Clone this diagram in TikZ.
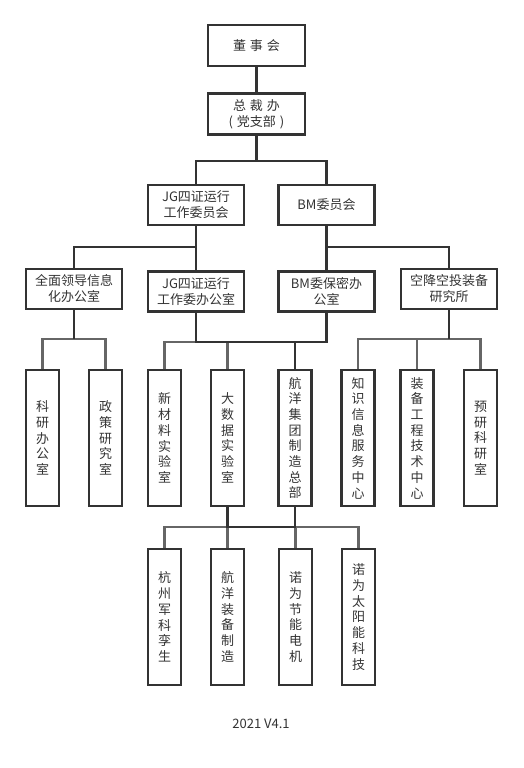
\documentclass[tikz,border=0pt]{standalone}
\usepackage{fontspec}
\setmainfont{Noto Sans CJK SC}
\usetikzlibrary{positioning}
\definecolor{linegray}{HTML}{333333}
\definecolor{busgray}{HTML}{666666}

\begin{document}
\begin{tikzpicture}[x=1pt,y=-1pt,
	box/.style={draw=linegray,line width=2.4pt,minimum width=96pt,minimum height=40pt,inner sep=0pt,align=center,text=linegray,font=\fontsize{13}{16}\selectfont},
	topbox/.style={box,minimum width=97pt,minimum height=41pt},
	vbox/.style={box,minimum width=33pt,minimum height=136pt,font=\fontsize{13}{15.7}\selectfont},
	conn/.style={draw=linegray,line width=2.2pt},
	sub/.style={conn,draw=busgray}]
	\useasboundingbox (0,0) rectangle (523,768);

	\node[topbox] (dsh) at (256.5,45.5) {董\hspace{4pt}事\hspace{4pt}会};
	\node[topbox] (zcb) [below=25pt of dsh] {总\hspace{4pt}裁\hspace{4pt}办\\(\hspace{4pt}党支部\hspace{4pt})};

	\node[box] (jgwyh) at (196,205) {JG四证运行\\工作委员会};
	\node[box] (bmwyh) at (326.5,205) {BM委员会};

	\node[box] (qmld) at (74,289) {全面领导信息\\化办公室};
	\node[box] (jgbgs) [below=44pt of jgwyh] {JG四证运行\\工作委办公室};
	\node[box] (bmbm) [below=44pt of bmwyh] {BM委保密办\\公室};
	\node[box] (kjkt) at (449,289) {空降空投装备\\研究所};

	\node[vbox] (kybgs) at (42.5,438) {科\\研\\办\\公\\室};
	\node[vbox] (zcyjs) at (105.5,438) {政\\策\\研\\究\\室};
	\node[vbox] (xcl) at (164.5,438) {新\\材\\料\\实\\验\\室};
	\node[vbox] (dsj) at (227.5,438) {大\\数\\据\\实\\验\\室};
	\node[vbox] (hyjt) at (295,438) {航\\洋\\集\\团\\制\\造\\总\\部};
	\node[vbox] (zsxx) at (358,438) {知\\识\\信\\息\\服\\务\\中\\心};
	\node[vbox] (zbgc) at (417,438) {装\\备\\工\\程\\技\\术\\中\\心};
	\node[vbox] (yyky) at (480.5,438) {预\\研\\科\\研\\室};

	\node[vbox] (hzjk) at (164.5,617) {杭\\州\\军\\科\\孪\\生};
	\node[vbox] (hyzb) at (227.5,617) {航\\洋\\装\\备\\制\\造};
	\node[vbox] (nwjn) at (295.5,617) {诺\\为\\节\\能\\电\\机};
	\node[vbox] (nwty) at (358.5,617) {诺\\为\\太\\阳\\能\\科\\技};

	\node[text=linegray,font=\fontsize{13}{16}\selectfont] (ver) at (261,724) {2021 V4.1};

	\draw[conn] (dsh) -- (zcb);
	\draw[conn] (zcb.south) -- ++(0,25) -| (jgwyh.north);
	\draw[conn] (zcb.south) -- ++(0,25) -| (bmwyh.north);
	\draw[conn] (jgwyh.south) -- ++(0,21) -| (qmld.north);
	\draw[conn] (jgwyh) -- (jgbgs);
	\draw[conn] (bmwyh) -- (bmbm);
	\draw[conn] (bmwyh.south) -- ++(0,21) -| (kjkt.north);

	\draw[sub] (qmld.south) ++(0,29) -| (kybgs.north);
	\draw[sub] (qmld.south) ++(0,29) -| (zcyjs.north);
	\draw[conn] (qmld.south) -- ++(0,29);
	\draw[sub] (jgbgs.south) ++(0,29) -| (xcl.north);
	\draw[sub] (jgbgs.south) ++(0,29) -| (dsj.north);
	\draw[conn] (jgbgs.south) -- ++(0,29) -| (bmbm.south);
	\draw[conn] (bmbm.south) ++(0,29) -| (hyjt.north);
	\draw[sub] (kjkt.south) ++(0,29) -| (zsxx.north);
	\draw[sub] (kjkt.south) ++(0,29) -| (zbgc.north);
	\draw[sub] (kjkt.south) ++(0,29) -| (yyky.north);
	\draw[conn] (kjkt.south) -- ++(0,29);

	\draw[sub] (dsj.south) ++(0,20) -| (hzjk.north);
	\draw[sub] (dsj.south) ++(0,20) -| (hyzb.north);
	\draw[sub] (hyjt.south) ++(0,20) -| (nwjn.north);
	\draw[sub] (hyjt.south) ++(0,20) -| (nwty.north);
	\draw[conn] (dsj.south) -- ++(0,20) -| (hyjt.south);
\end{tikzpicture}
\end{document}
